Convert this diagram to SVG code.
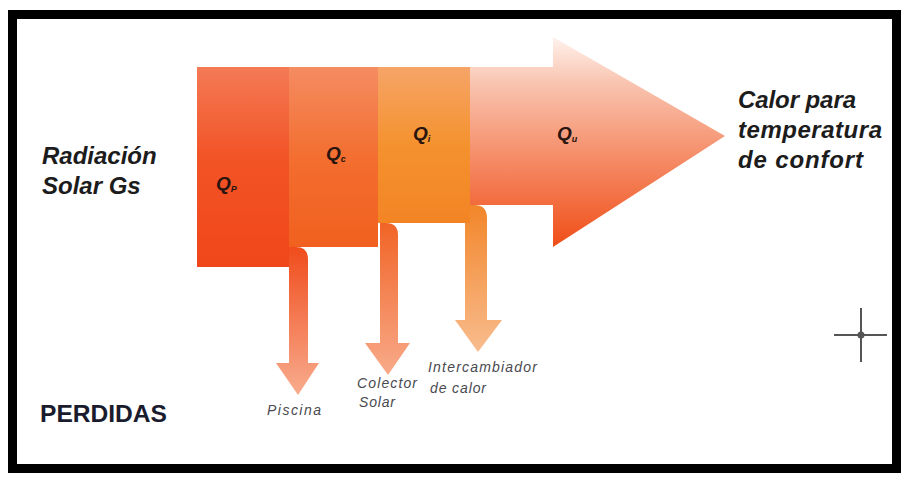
<svg xmlns="http://www.w3.org/2000/svg" width="904" height="477" viewBox="0 0 904 477">
  <defs>
    <linearGradient id="gQp" x1="0" y1="67" x2="0" y2="267" gradientUnits="userSpaceOnUse">
      <stop offset="0" stop-color="#f47a56"/>
      <stop offset="0.45" stop-color="#f25426"/>
      <stop offset="1" stop-color="#f0461a"/>
    </linearGradient>
    <linearGradient id="gQc" x1="0" y1="67" x2="0" y2="247" gradientUnits="userSpaceOnUse">
      <stop offset="0" stop-color="#f58c62"/>
      <stop offset="0.5" stop-color="#f36e30"/>
      <stop offset="1" stop-color="#f1601e"/>
    </linearGradient>
    <linearGradient id="gQi" x1="0" y1="67" x2="0" y2="223" gradientUnits="userSpaceOnUse">
      <stop offset="0" stop-color="#f6a468"/>
      <stop offset="0.5" stop-color="#f4922e"/>
      <stop offset="1" stop-color="#f38424"/>
    </linearGradient>
    <linearGradient id="gQu" x1="0" y1="37" x2="0" y2="247" gradientUnits="userSpaceOnUse">
      <stop offset="0" stop-color="#fff2ec"/>
      <stop offset="0.22" stop-color="#f9c4b0"/>
      <stop offset="0.55" stop-color="#f5906c"/>
      <stop offset="1" stop-color="#f04e18"/>
    </linearGradient>
    <linearGradient id="gL1" x1="0" y1="247" x2="0" y2="395" gradientUnits="userSpaceOnUse">
      <stop offset="0" stop-color="#f04c1c"/>
      <stop offset="1" stop-color="#f8ac8e"/>
    </linearGradient>
    <linearGradient id="gL2" x1="0" y1="223" x2="0" y2="375" gradientUnits="userSpaceOnUse">
      <stop offset="0" stop-color="#f16426"/>
      <stop offset="1" stop-color="#f8aa8a"/>
    </linearGradient>
    <linearGradient id="gL3" x1="0" y1="205" x2="0" y2="352" gradientUnits="userSpaceOnUse">
      <stop offset="0" stop-color="#f2862a"/>
      <stop offset="1" stop-color="#f8bc8e"/>
    </linearGradient>
  </defs>
  <style>
    .big { font-family: "Liberation Sans", Arial, sans-serif; font-weight: bold; font-style: italic; font-size: 24px; fill: #1c1c1c; }
    .q { font-family: "Liberation Sans", Arial, sans-serif; font-weight: bold; font-style: italic; font-size: 19px; fill: #2a1410; }
    .sub { font-size: 9px; }
    .small { font-family: "Liberation Sans", Arial, sans-serif; font-style: italic; font-size: 14px; fill: #4a4a50; }
    .perd { font-family: "Liberation Sans", Arial, sans-serif; font-weight: bold; font-size: 23px; fill: #1a1c2e; }
  </style>

  <rect x="0" y="0" width="904" height="477" fill="#ffffff"/>
  <rect id="frame" x="12.5" y="14.5" width="884" height="454" fill="none" stroke="#000000" stroke-width="9"/>

  <g id="connectors">
    <path d="M289 240 H296 V247 Q308 247 308 259 V363 H319 L298 395 L276 363 H289 Z" fill="url(#gL1)"/>
    <path d="M380 216 H386 V223 Q398 223 398 235 V343 H410 L388 375 L365 343 H380 Z" fill="url(#gL2)"/>
    <path d="M465 198 H474 V205 Q487 205 487 218 V320 H502 L478 352 L455 320 H465 Z" fill="url(#gL3)"/>
  </g>

  <g id="node-Qu">
    <path d="M468 67 H553 V37 L725 136 L553 247 V205 H468 Z" fill="url(#gQu)"/>
  </g>
  <g id="node-Qi">
    <rect x="378" y="67" width="92" height="156" fill="url(#gQi)"/>
  </g>
  <g id="node-Qc">
    <rect x="289" y="67" width="89" height="180" fill="url(#gQc)"/>
  </g>
  <g id="node-Qp">
    <rect x="197" y="67" width="92" height="200" fill="url(#gQp)"/>
  </g>

  <g id="label-Qp"><text class="q" x="216" y="190">Q<tspan class="sub" dy="2">P</tspan></text></g>
  <g id="label-Qc"><text class="q" x="326" y="160">Q<tspan class="sub" dy="2">c</tspan></text></g>
  <g id="label-Qi"><text class="q" x="413" y="140">Q<tspan class="sub" dy="2">i</tspan></text></g>
  <g id="label-Qu"><text class="q" x="557" y="140">Q<tspan class="sub" dy="2">u</tspan></text></g>

  <g id="label-radiacion">
    <text class="big" x="42" y="164">Radiación</text>
    <text class="big" x="42" y="194">Solar Gs</text>
  </g>
  <g id="label-calor">
    <text class="big" x="738" y="108" textLength="118">Calor para</text>
    <text class="big" x="738" y="138" textLength="144">temperatura</text>
    <text class="big" x="738" y="168" textLength="125">de confort</text>
  </g>
  <g id="label-perdidas">
    <text class="perd" x="40" y="422" textLength="127" lengthAdjust="spacingAndGlyphs">PERDIDAS</text>
  </g>
  <g id="label-piscina"><text class="small" x="267" y="415" textLength="54">Piscina</text></g>
  <g id="label-colector">
    <text class="small" x="357" y="388" textLength="60">Colector</text>
    <text class="small" x="359" y="407" textLength="36">Solar</text>
  </g>
  <g id="label-intercambiador">
    <text class="small" x="428" y="372" textLength="109">Intercambiador</text>
    <text class="small" x="430" y="393" textLength="56">de calor</text>
  </g>

  <g id="crosshair" stroke="#555555" stroke-width="2" fill="none">
    <line x1="834" y1="335" x2="887" y2="335"/>
    <line x1="861" y1="308" x2="861" y2="362"/>
    <circle cx="861" cy="335" r="2.5"/>
  </g>
</svg>
